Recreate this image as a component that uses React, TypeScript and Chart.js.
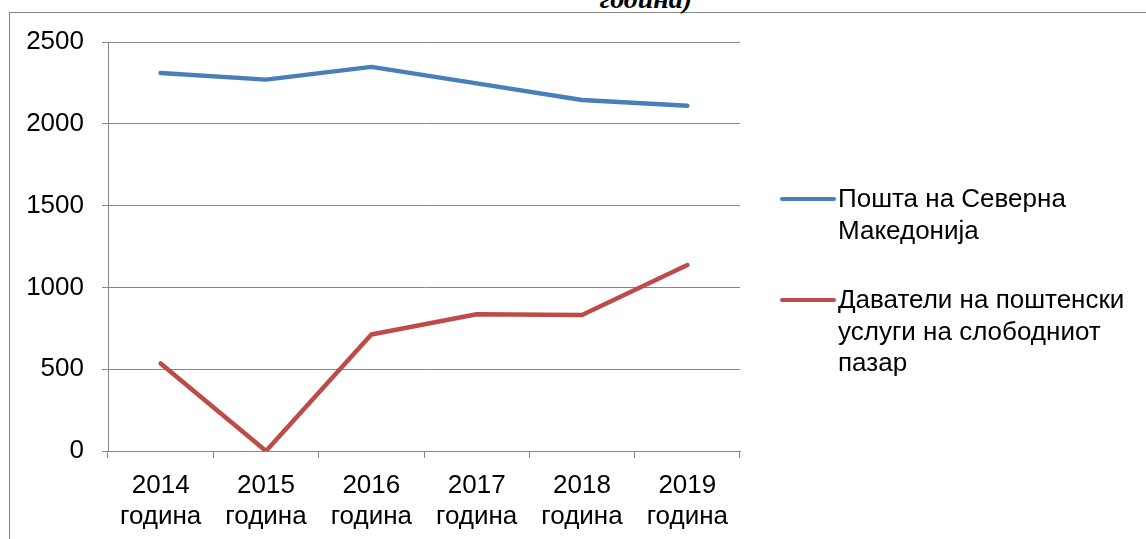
import React, { useEffect, useRef } from "react";
import { Chart, registerables } from "chart.js";

Chart.register(...registerables);

const categories: string[][] = [
  ["2014", "година"],
  ["2015", "година"],
  ["2016", "година"],
  ["2017", "година"],
  ["2018", "година"],
  ["2019", "година"],
];
const postaValues = [2310, 2270, 2348, 2247, 2145, 2110];
const davateliValues = [535, 0, 712, 836, 831, 1137];
const seriesNames = ["Пошта на Северна Македонија", "Даватели на поштенски услуги на слободниот пазар"];
const legendLines: string[][] = [
  ["Пошта на Северна", "Македонија"],
  ["Даватели на поштенски", "услуги на слободниот", "пазар"],
];
const seriesColors = ["#4A7EBB", "#BE4B48"];
const yTickMin = 0;
const yTickMax = 2500;
const yTickStep = 500;
const titleFragment = "година)";

const FONT = "'Liberation Sans', Arial, sans-serif";
const GRID = "#868686";

export default function App() {
  const ref = useRef<HTMLCanvasElement | null>(null);

  useEffect(() => {
    if (!ref.current) return;
    const chart = new Chart(ref.current, {
      type: "line",
      data: {
        labels: categories,
        datasets: [
          {
            label: seriesNames[0],
            data: postaValues,
            borderColor: seriesColors[0],
            backgroundColor: seriesColors[0],
            borderWidth: 4.5,
            pointRadius: 0,
            tension: 0,
            borderCapStyle: "round",
            borderJoinStyle: "round",
          },
          {
            label: seriesNames[1],
            data: davateliValues,
            borderColor: seriesColors[1],
            backgroundColor: seriesColors[1],
            borderWidth: 4.5,
            pointRadius: 0,
            tension: 0,
            borderCapStyle: "round",
            borderJoinStyle: "round",
          },
        ],
      },
      options: {
        animation: false,
        responsive: false,
        maintainAspectRatio: false,
        layout: { padding: { left: 0, right: 406, top: 42, bottom: 0 } },
        plugins: {
          legend: { display: false },
          title: { display: false },
          tooltip: { enabled: false },
        },
        scales: {
          x: {
            offset: true,
            afterFit: (s: any) => {
              s.height = 88;
            },
            grid: {
              offset: true,
              drawOnChartArea: false,
              drawTicks: true,
              tickLength: 7,
              color: GRID,
              lineWidth: 1,
            },
            border: { display: true, color: GRID, width: 1 },
            ticks: {
              color: "#000",
              font: { family: FONT, size: 26, lineHeight: 1.2 },
              padding: 12,
              maxRotation: 0,
              autoSkip: false,
            },
          },
          y: {
            min: yTickMin,
            max: yTickMax,
            afterFit: (s: any) => {
              s.width = 108;
            },
            grid: {
              color: GRID,
              lineWidth: 1,
              drawTicks: true,
              tickLength: 6,
            },
            border: { display: true, color: GRID, width: 1 },
            ticks: {
              stepSize: yTickStep,
              color: "#000",
              font: { family: FONT, size: 26 },
              padding: 18,
              callback: (v: any) => String(v),
            },
          },
        },
      },
    });
    return () => chart.destroy();
  }, []);

  return (
    <div
      style={{
        position: "fixed",
        left: 0,
        top: 0,
        width: 1146,
        height: 539,
        overflow: "hidden",
        background: "#fff",
      }}
    >
      <div
        style={{
          position: "absolute",
          left: 9,
          top: 12,
          width: 1300,
          height: 700,
          borderLeft: "1px solid #858585",
          borderTop: "1px solid #858585",
        }}
      />
      <div
        style={{
          position: "absolute",
          left: 0,
          width: 1292,
          top: -17,
          textAlign: "center",
          fontFamily: "'Liberation Serif', 'Times New Roman', serif",
          fontWeight: "bold",
          fontStyle: "italic",
          fontSize: 28,
          lineHeight: "32px",
          color: "#000",
        }}
      >
        {titleFragment}
      </div>
      <canvas ref={ref} width={1146} height={539} style={{ position: "absolute", left: 0, top: 0, width: 1146, height: 539 }} />
      <div
        style={{
          position: "absolute",
          left: 780,
          top: 183,
          fontFamily: FONT,
          fontSize: 26,
          lineHeight: "31.5px",
          color: "#000",
        }}
      >
        {legendLines.map((lines, i) => (
          <div key={i} style={{ display: "flex", alignItems: "flex-start", marginBottom: 38 }}>
            <span
              style={{
                display: "inline-block",
                width: 56,
                height: 4.5,
                borderRadius: 3,
                background: seriesColors[i],
                marginTop: 13.5,
                marginRight: 2,
              }}
            />
            <div style={{ whiteSpace: "nowrap" }}>
              {lines.map((l, j) => (
                <div key={j}>{l}</div>
              ))}
            </div>
          </div>
        ))}
      </div>
    </div>
  );
}
